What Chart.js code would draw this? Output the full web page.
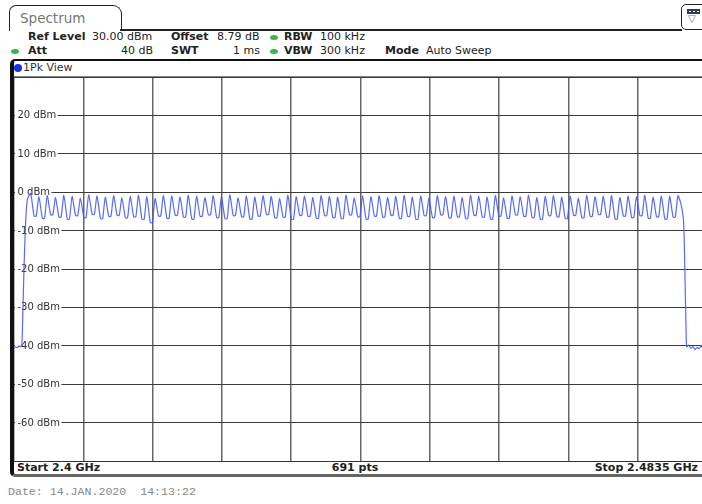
<!DOCTYPE html>
<html>
  <head>
    <title>Spectrum</title>
    <script src="https://cdn.jsdelivr.net/npm/chart.js"></script>
    <style>
      body {
        margin: 0;
        width: 702px;
        height: 504px;
        overflow: hidden;
        background: #fff;
        position: relative;
        font-family: "DejaVu Sans", Verdana, sans-serif;
        color: #222;
      }

      .abs {
        position: absolute;
        white-space: pre;
      }

      .tab {
        left: 9px;
        top: 5px;
        width: 111px;
        height: 25px;
        border: 1.5px solid #222;
        border-bottom: none;
        border-radius: 7px 9px 0 0;
      }

      .tab span {
        position: absolute;
        left: 10px;
        top: 4px;
        font-size: 13.5px;
        color: #777;
      }

      .hdr {
        font-size: 11px;
        line-height: 12px;
      }

      .dot-g {
        width: 8px;
        height: 5px;
        border-radius: 50%;
        background: #3cb44b;
      }

      .view {
        left: 10px;
        top: 59px;
        width: 700px;
        height: 413px;
        border-left: 4px solid #111;
        border-top: 2px solid #111;
        border-bottom: 3px solid #666;
        border-radius: 5px 0 0 5px;
      }

      .plot {
        position: absolute;
        left: 14px;
        top: 77px;
        width: 688px;
        height: 384px;
        overflow: hidden;
      }

      .plot canvas {
        display: block;
      }

      .foot {
        font-size: 11px;
        font-weight: bold;
        line-height: 12px;
        top: 462px;
      }
    </style>
  </head>
  <body>
    <div class="abs tab"><span>Spectrum</span></div>
    <div class="abs" style="left:120px;top:29px;width:562px;height:1.5px;background:#222"></div>
    <div class="abs" style="left:681px;top:4px;width:24px;height:24px;border:1.5px solid #222;border-radius:5px"></div>
    <div class="abs" style="left:687px;top:9px;width:13px;height:5px;background:#2e3b55"></div>
    <div class="abs" style="left:689px;top:11px;width:2px;height:1px;background:#fff"></div>
    <div class="abs" style="left:693px;top:11px;width:2px;height:1px;background:#fff"></div>
    <div class="abs" style="left:697px;top:11px;width:2px;height:1px;background:#fff"></div>
    <div class="abs" style="left:688px;top:14px;font-size:10px;line-height:10px;color:#5a6f9a">&#9661;</div>

    <!-- header settings -->
    <div class="abs hdr" style="left:28px;top:31px"><b>Ref Level</b></div>
    <div class="abs hdr" style="left:92px;top:31px">30.00 dBm</div>
    <div class="abs hdr" style="left:171px;top:31px"><b>Offset</b></div>
    <div class="abs hdr" style="left:217px;top:31px">8.79 dB</div>
    <div class="abs dot-g" style="left:270px;top:35px"></div>
    <div class="abs hdr" style="left:284px;top:31px"><b>RBW</b></div>
    <div class="abs hdr" style="left:320px;top:31px">100 kHz</div>

    <div class="abs dot-g" style="left:11px;top:49px"></div>
    <div class="abs hdr" style="left:28px;top:45px"><b>Att</b></div>
    <div class="abs hdr" style="left:103px;top:45px;width:50px;text-align:right">40 dB</div>
    <div class="abs hdr" style="left:171px;top:45px"><b>SWT</b></div>
    <div class="abs hdr" style="left:210px;top:45px;width:50px;text-align:right">1 ms</div>
    <div class="abs dot-g" style="left:270px;top:49px"></div>
    <div class="abs hdr" style="left:284px;top:45px"><b>VBW</b></div>
    <div class="abs hdr" style="left:320px;top:45px">300 kHz</div>
    <div class="abs hdr" style="left:385px;top:45px"><b>Mode</b></div>
    <div class="abs hdr" style="left:426px;top:45px">Auto Sweep</div>

    <!-- view frame -->
    <div class="abs view"></div>
    <div class="abs" style="left:14px;top:64px;width:8px;height:8px;border-radius:50%;background:#1432e6"></div>
    <div class="abs hdr" style="left:23px;top:62px;color:#333">1Pk View</div>
    <div class="abs" style="left:14px;top:76px;width:688px;height:1px;background:#888"></div>

    <div class="plot"><canvas id="trace" width="693" height="384"></canvas></div>

    <div class="abs" style="left:14px;top:461px;width:688px;height:1px;background:#333"></div>
    <div class="abs foot" style="left:17px">Start 2.4 GHz</div>
    <div class="abs foot" style="left:300px;width:110px;text-align:center">691 pts</div>
    <div class="abs foot" style="left:560px;width:138px;text-align:right">Stop 2.4835 GHz</div>

    <div class="abs" style="left:8px;top:485px;font-family:'Liberation Mono',monospace;font-size:11.6px;color:#888">Date: 14.JAN.2020  14:13:22</div>

    <script>
      // sweep 2.4 GHz .. 2.4835 GHz, values in MHz / dBm
      const startMHz = [2400.0, 2400.2, 2400.4, 2400.6, 2400.8, 2400.95, 2401.05, 2401.2, 2401.4, 2401.6];
      const startDbm = [-40.6, -40.3, -40.5, -40.1, -40.2, -39.6, -33.0, -20.0, -8.0, -2.0];

      // hopping channel peaks (2402..2480 MHz)
      const channelMHz = [
        2402, 2403, 2404, 2405, 2406, 2407, 2408, 2409, 2410, 2411,
        2412, 2413, 2414, 2415, 2416, 2417, 2418, 2419, 2420, 2421,
        2422, 2423, 2424, 2425, 2426, 2427, 2428, 2429, 2430, 2431,
        2432, 2433, 2434, 2435, 2436, 2437, 2438, 2439, 2440, 2441,
        2442, 2443, 2444, 2445, 2446, 2447, 2448, 2449, 2450, 2451,
        2452, 2453, 2454, 2455, 2456, 2457, 2458, 2459, 2460, 2461,
        2462, 2463, 2464, 2465, 2466, 2467, 2468, 2469, 2470, 2471,
        2472, 2473, 2474, 2475, 2476, 2477, 2478, 2479, 2480
      ];
      const peakDbm = [
        -0.3, -1.2, -0.9, -1.4, -0.8, -1.1, -1.6, -0.7, -1.0, -1.3,
        -0.9, -1.5, -1.1, -0.8, -1.2, -1.7, -0.9, -1.0, -1.3, -0.8,
        -1.1, -1.4, -0.9, -1.2, -0.7, -1.5, -1.0, -1.3, -0.9, -1.1,
        -1.6, -0.8, -1.2, -1.0, -1.4, -0.9, -1.1, -1.3, -0.8, -1.5,
        -1.0, -1.2, -0.9, -1.4, -1.1, -0.8, -1.3, -1.0, -1.6, -0.9,
        -1.2, -1.0, -1.4, -0.8, -1.1, -1.3, -0.9, -1.5, -1.0, -1.2,
        -0.8, -1.4, -1.1, -0.9, -1.3, -1.0, -1.6, -0.8, -1.2, -1.1,
        -0.9, -1.4, -1.0, -1.2, -0.8, -1.3, -1.0, -1.1, -0.9
      ];
      // dips between neighbouring channels (bottom is a little wide)
      const valleyDbm = [
        -6.2, -6.8, -5.9, -6.5, -7.0, -6.1, -6.6, -5.8, -6.9, -6.3,
        -6.0, -6.7, -6.4, -7.1, -7.9, -6.2, -6.8, -6.0, -6.5, -7.0,
        -6.3, -5.9, -6.6, -6.9, -6.1, -6.4, -7.0, -6.2, -5.8, -6.7,
        -6.5, -7.1, -6.0, -6.3, -6.8, -6.1, -6.6, -6.9, -5.9, -6.4,
        -7.0, -6.2, -6.5, -6.0, -6.8, -6.3, -7.1, -6.1, -6.6, -5.9,
        -6.7, -6.4, -6.9, -6.0, -6.5, -7.0, -6.2, -6.8, -5.9, -6.3,
        -6.6, -7.1, -6.1, -6.4, -6.9, -6.0, -6.7, -6.3, -5.8, -6.5,
        -7.0, -6.2, -6.6, -6.1, -6.8, -6.4, -7.0, -6.5
      ];
      const valleyFromMHz = 0.42;
      const valleyToMHz = 0.68;

      const endMHz = [2480.35, 2480.65, 2480.75, 2480.85, 2480.95, 2481.05, 2481.3, 2481.55, 2481.8, 2482.05, 2482.3, 2482.55, 2482.8, 2483.1, 2483.5];
      const endDbm = [-3.0, -6.8, -12.0, -22.0, -33.0, -40.3, -39.8, -40.6, -40.2, -41.0, -40.4, -40.7, -40.1, -40.6, -40.3];

      const xGridMHz = [2400, 2408.35, 2416.7, 2425.05, 2433.4, 2441.75, 2450.1, 2458.45, 2466.8, 2475.15, 2483.5];
      const yTickValues = [20, 10, 0, -10, -20, -30, -40, -50, -60];
      const yTickLabels = ["20 dBm", "10 dBm", "0 dBm", "-10 dBm", "-20 dBm", "-30 dBm", "-40 dBm", "-50 dBm", "-60 dBm"];

      const trace = [];
      startMHz.forEach(function (f, i) {
        trace.push({ x: f, y: startDbm[i] });
      });
      channelMHz.forEach(function (f, i) {
        trace.push({ x: f, y: peakDbm[i] });
        if (i < valleyDbm.length) {
          trace.push({ x: f + valleyFromMHz, y: valleyDbm[i] });
          trace.push({ x: f + valleyToMHz, y: valleyDbm[i] });
        }
      });
      endMHz.forEach(function (f, i) {
        trace.push({ x: f, y: endDbm[i] });
      });

      // level labels sit inside the grid, under the trace
      const levelLabels = {
        id: "levelLabels",
        beforeDatasetsDraw(chart) {
          const ctx = chart.ctx;
          const y = chart.scales.y;
          const left = chart.chartArea.left;
          ctx.save();
          ctx.font = '10px "DejaVu Sans"';
          ctx.textBaseline = "middle";
          yTickValues.forEach(function (v, i) {
            const py = y.getPixelForValue(v);
            const w = ctx.measureText(yTickLabels[i]).width;
            ctx.fillStyle = "#fff";
            ctx.fillRect(left + 1, py - 5, w + 4, 10);
            ctx.fillStyle = "#333";
            ctx.fillText(yTickLabels[i], left + 3.5, py + 0.5);
          });
          ctx.restore();
        },
      };

      new Chart(document.getElementById("trace"), {
        type: "line",
        data: {
          datasets: [
            {
              data: trace,
              borderColor: "rgba(70, 90, 250, 0.9)",
              borderWidth: 1.2,
              pointRadius: 0,
              tension: 0.2,
            },
          ],
        },
        options: {
          responsive: false,
          animation: false,
          layout: { padding: 0 },
          plugins: { legend: { display: false }, tooltip: { enabled: false } },
          scales: {
            x: {
              type: "linear",
              min: 2400,
              max: 2483.5,
              afterBuildTicks: function (scale) {
                scale.ticks = xGridMHz.map(function (v) {
                  return { value: v };
                });
              },
              ticks: { display: false },
              border: { display: false },
              grid: { color: "#666", lineWidth: 1.5, drawTicks: false },
            },
            y: {
              min: -70,
              max: 30,
              ticks: { display: false, stepSize: 10 },
              border: { display: false },
              grid: { color: "#3a3a3a", lineWidth: 1, drawTicks: false },
            },
          },
        },
        plugins: [levelLabels],
      });
    </script>
  </body>
</html>
